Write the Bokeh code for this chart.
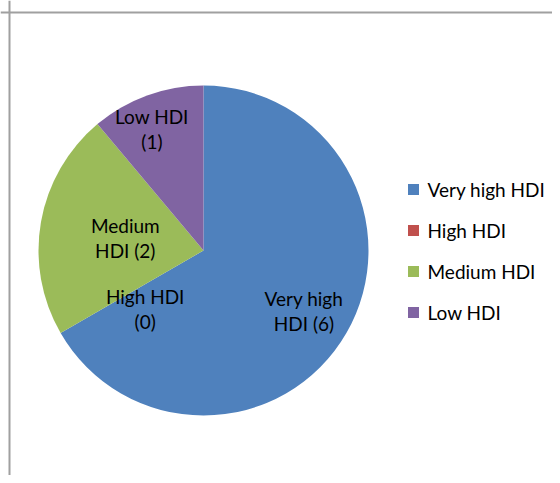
import math
from bokeh.plotting import figure
from bokeh.models import Range1d, Span
from bokeh.core.properties import value
from bokeh.embed import file_html
from bokeh.resources import INLINE

# Data
categories = ["Very high HDI", "High HDI", "Medium HDI", "Low HDI"]
counts = [6, 0, 2, 1]
label_line1 = ["Very high", "High HDI", "Medium", "Low HDI"]
label_line2 = ["HDI (6)", "(0)", "HDI (2)", "(1)"]
colors = ["#4F81BD", "#C0504D", "#9BBB59", "#8064A2"]

# Layout (style / positions)
W, H = 552, 475
cx, cy, R = 203, 225, 165
label_r = [0.71, 0.50, 0.48, 0.80]
label_da = [-1.0, 15.0, 1.0, 3.0]  # degrees tweak
FONT = "Lato"
FS = "19px"
LINE_GAP = 12.5

p = figure(width=W, height=H, x_range=Range1d(0, W), y_range=Range1d(0, H),
           output_backend="svg", toolbar_location=None, min_border=0)
p.axis.visible = False
p.grid.visible = False
p.outline_line_color = None
p.background_fill_color = "white"
p.border_fill_color = "white"

total = sum(counts)
cum = 0
starts, ends, cols, mids = [], [], [], []
for c, col in zip(counts, colors):
    a0 = math.pi / 2 - 2 * math.pi * cum / total
    cum += c
    a1 = math.pi / 2 - 2 * math.pi * cum / total
    mids.append((a0 + a1) / 2)
    if c > 0:
        starts.append(a0); ends.append(a1); cols.append(col)

p.wedge(x=cx, y=cy, radius=R, start_angle=starts, end_angle=ends,
        direction="clock", fill_color=cols, line_color=None)

# data labels
lx, ly = [], []
for m, r, da in zip(mids, label_r, label_da):
    a = m + math.radians(da)
    lx.append(cx + r * R * math.cos(a))
    ly.append(cy + r * R * math.sin(a))
p.text(x=lx, y=[y + LINE_GAP for y in ly], text=label_line1, text_align="center",
       text_baseline="middle", text_font=value(FONT), text_font_size=FS,
       text_color="#000000")
p.text(x=lx, y=[y - LINE_GAP for y in ly], text=label_line2, text_align="center",
       text_baseline="middle", text_font=value(FONT), text_font_size=FS,
       text_color="#000000")

# legend
leg_x, leg_y0, leg_dy = 413, 286, 41
ys = [leg_y0 - i * leg_dy for i in range(len(categories))]
p.rect(x=[leg_x] * len(categories), y=ys, width=11, height=11,
       fill_color=colors, line_color=None)
p.text(x=[leg_x + 14] * len(categories), y=ys, text=categories,
       text_align="left", text_baseline="middle",
       text_font=value(FONT), text_font_size=FS, text_color="#000000")

# chart area border (cropped)
p.add_layout(Span(location=9, dimension="height", line_color="#A0A0A0", line_width=2))
p.add_layout(Span(location=463, dimension="width", line_color="#A0A0A0", line_width=2))

open("out.html", "w").write(file_html(p, INLINE))
